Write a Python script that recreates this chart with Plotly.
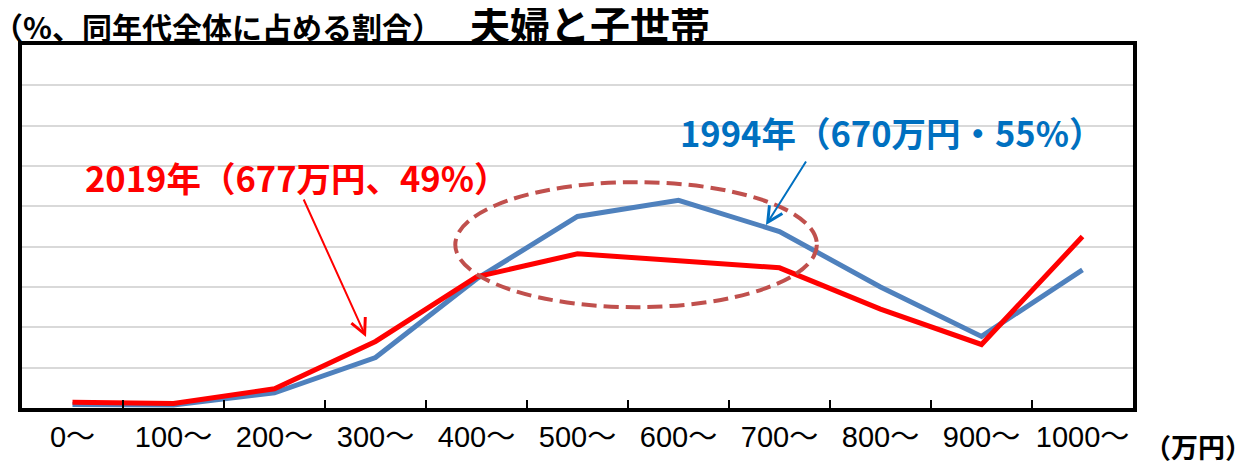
import plotly.graph_objects as go

# income bands (万円)
categories = ["0～", "100～", "200～", "300～", "400～", "500～",
              "600～", "700～", "800～", "900～", "1000～"]

# share of all households of the same age group (%)
share_1994 = [0.17, 0.15, 0.75, 2.5, 6.4, 9.5, 10.3, 8.75, 6.0, 3.55, 6.85]
share_2019 = [0.28, 0.22, 0.95, 3.3, 6.5, 7.65, 7.3, 6.95, 4.9, 3.15, 8.5]

JP = "Noto Sans CJK JP"
TICK_FONT = "Liberation Sans, Noto Sans CJK JP"

fig = go.Figure()

fig.add_trace(go.Scatter(
    x=categories, y=share_1994,
    mode="lines",
    line=dict(color="#4F81BD", width=5),
    name="1994",
    showlegend=False,
))
fig.add_trace(go.Scatter(
    x=categories, y=share_2019,
    mode="lines",
    line=dict(color="#FF0000", width=5),
    name="2019",
    showlegend=False,
))

# dashed ellipse around the middle-income bands
fig.add_shape(
    type="circle", xref="x", yref="y",
    x0=3.79, x1=7.37, y0=5.0, y1=11.2,
    line=dict(color="#C0504D", width=4, dash="15px,7px"),
)

# labels for each year with arrows
fig.add_annotation(
    text="<b>2019年（677万円、49%）</b>", x=0.247, y=0.6377,
    xref="paper", yref="paper", xanchor="center", yanchor="middle",
    showarrow=False, font=dict(family=JP, size=34.5, color="#FF0000"),
)
fig.add_annotation(
    text="", x=2.906, y=3.52, xref="x", yref="y",
    ax=-63, ay=-139, showarrow=True,
    arrowhead=5, arrowsize=1.5, arrowwidth=2, arrowcolor="#FF0000",
)
fig.add_annotation(
    text="<b>1994年（670万円・55%）</b>", x=0.783, y=0.7617,
    xref="paper", yref="paper", xanchor="center", yanchor="middle",
    showarrow=False, font=dict(family=JP, size=34.5, color="#0070C0"),
)
fig.add_annotation(
    text="", x=6.866, y=9.07, xref="x", yref="y",
    ax=41, ay=-65, showarrow=True,
    arrowhead=5, arrowsize=1.5, arrowwidth=2, arrowcolor="#0070C0",
)

# title, y-unit note and x-unit note
fig.add_annotation(
    text="<b>夫婦と子世帯</b>", x=0.511, y=1.06,
    xref="paper", yref="paper", xanchor="center", yanchor="middle",
    showarrow=False, font=dict(family=JP, size=40, color="black"),
)
fig.add_annotation(
    text="<b>（%、同年代全体に占める割合）</b>", x=-0.028, y=1.052,
    xref="paper", yref="paper", xanchor="left", yanchor="middle",
    showarrow=False, font=dict(family=JP, size=30, color="black"),
)
fig.add_annotation(
    text="<b>（万円）</b>", x=1.0585, y=-0.107,
    xref="paper", yref="paper", xanchor="center", yanchor="middle",
    showarrow=False, font=dict(family=JP, size=27, color="black"),
)

fig.update_xaxes(
    type="category",
    tickson="boundaries",
    ticks="inside", ticklen=8, tickwidth=2, tickcolor="black",
    showgrid=False,
    showline=True, linewidth=4, linecolor="black", mirror=True,
    tickfont=dict(family=TICK_FONT, size=29, color="black"),
    tickangle=0,
    ticklabelstandoff=0,
    automargin=False,
    range=[-0.5, 10.5],
)
fig.update_yaxes(
    range=[0, 18], dtick=2,
    showticklabels=False,
    showgrid=True, gridcolor="#D9D9D9", gridwidth=2,
    zeroline=False,
    showline=True, linewidth=4, linecolor="black", mirror=True,
    automargin=False,
)

# the page body adds an 8px offset, so the figure is 8px smaller than the window
fig.update_layout(
    width=1247, height=454,
    margin=dict(l=14, r=122, t=37, b=54),
    plot_bgcolor="white",
    paper_bgcolor="white",
)

fig.write_html("out.html")
